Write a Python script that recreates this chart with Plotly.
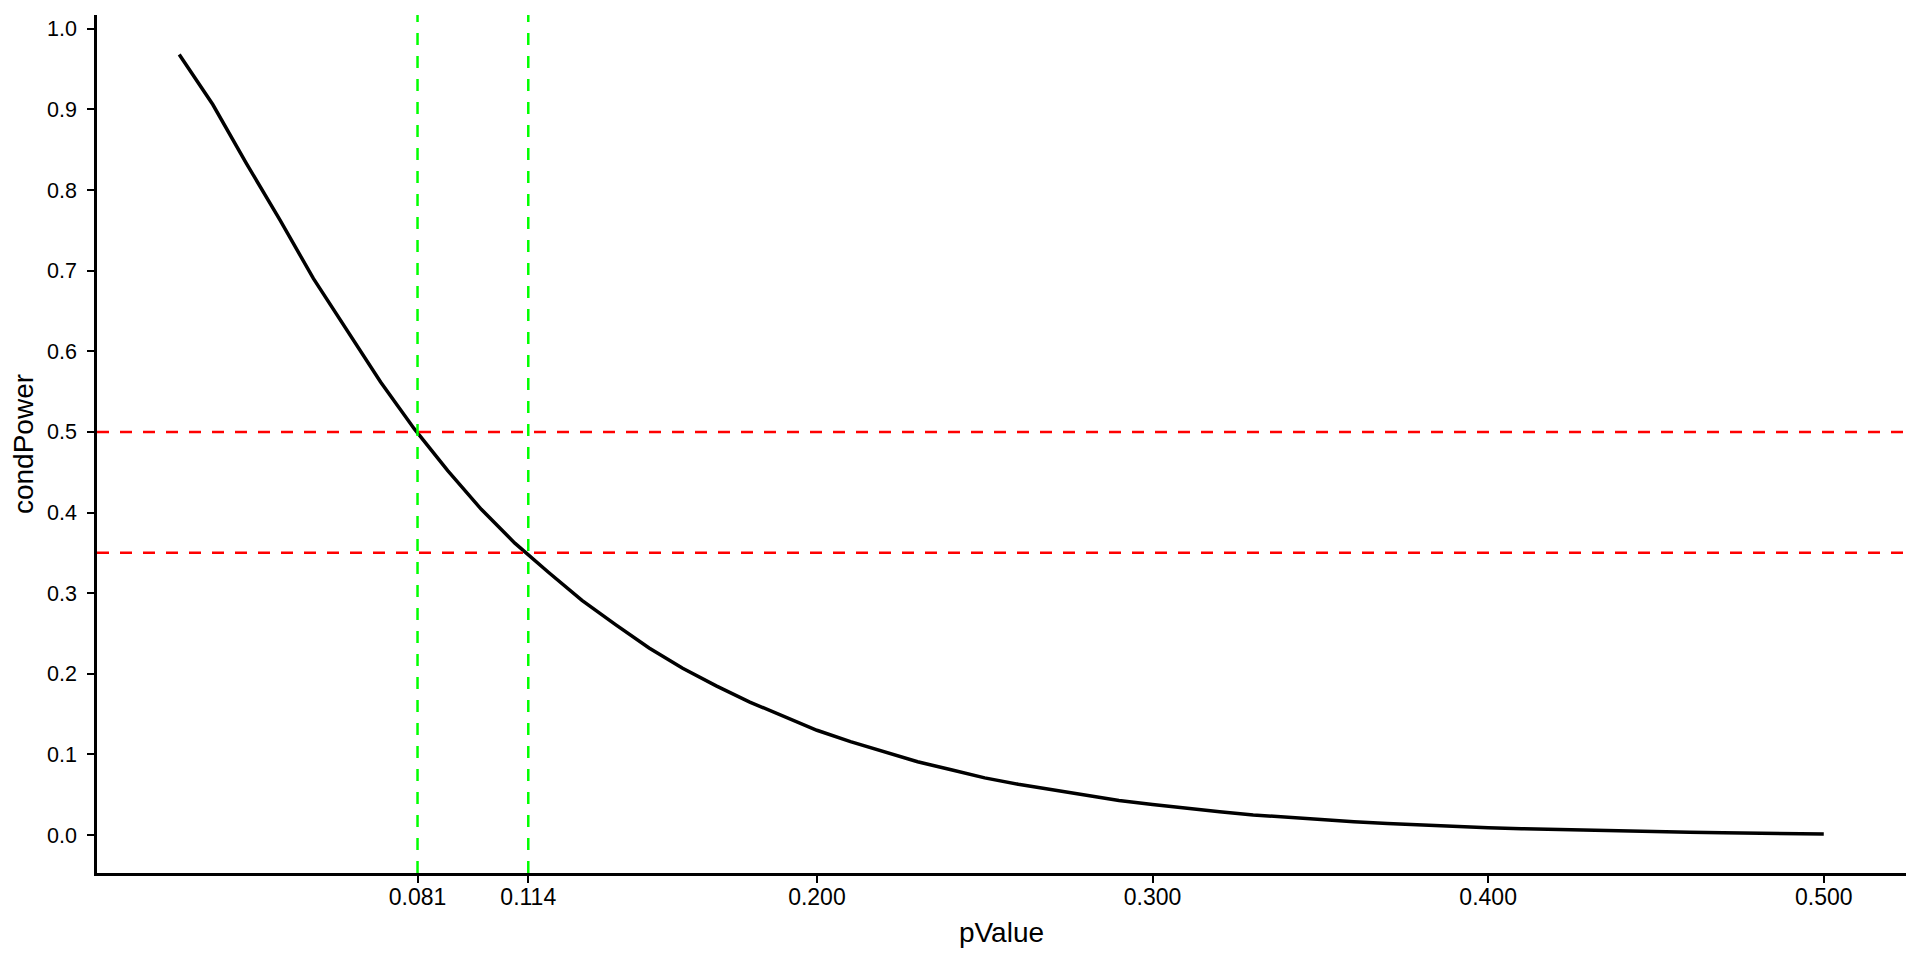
import plotly.graph_objects as go

p_values = [0.01, 0.02, 0.03, 0.04, 0.05, 0.06, 0.07, 0.08, 0.09, 0.10,
            0.11, 0.12, 0.13, 0.14, 0.15, 0.16, 0.17, 0.18, 0.19, 0.20,
            0.21, 0.22, 0.23, 0.24, 0.25, 0.26, 0.27, 0.28, 0.29, 0.30,
            0.31, 0.32, 0.33, 0.34, 0.35, 0.36, 0.37, 0.38, 0.39, 0.40,
            0.41, 0.42, 0.43, 0.44, 0.45, 0.46, 0.47, 0.48, 0.49, 0.50]
cond_power = [0.968, 0.906, 0.833, 0.763, 0.690, 0.626, 0.562, 0.504, 0.452, 0.404,
              0.362, 0.326, 0.291, 0.261, 0.232, 0.207, 0.185, 0.165, 0.147, 0.130,
              0.116, 0.103, 0.091, 0.081, 0.071, 0.063, 0.056, 0.049, 0.043, 0.038,
              0.033, 0.029, 0.025, 0.022, 0.019, 0.0165, 0.0143, 0.0124, 0.0107, 0.0092,
              0.0080, 0.0069, 0.0059, 0.0050, 0.0042, 0.0035, 0.0029, 0.0023, 0.0018, 0.0014]

h_lines = [0.5, 0.35]
v_lines = [0.081, 0.114]

x_ticks = [0.081, 0.114, 0.2, 0.3, 0.4, 0.5]
x_tick_labels = ["0.081", "0.114", "0.200", "0.300", "0.400", "0.500"]
y_ticks = [0.0, 0.1, 0.2, 0.3, 0.4, 0.5, 0.6, 0.7, 0.8, 0.9, 1.0]
y_tick_labels = ["0.0", "0.1", "0.2", "0.3", "0.4", "0.5", "0.6", "0.7", "0.8", "0.9", "1.0"]

fig = go.Figure()
fig.add_trace(go.Scatter(x=p_values, y=cond_power, mode="lines",
                         line=dict(color="black", width=3.5), showlegend=False))

for h in h_lines:
    fig.add_shape(type="line", xref="x domain", yref="y", x0=0, x1=1, y0=h, y1=h,
                  line=dict(color="#FF0000", width=2.5, dash="12px,11px"), layer="above")
for v in v_lines:
    fig.add_shape(type="line", xref="x", yref="y domain", x0=v, x1=v, y0=0, y1=1,
                  line=dict(color="#00FF00", width=2.5, dash="12px,11px"), layer="above")

font_family = "Liberation Sans, Arial, sans-serif"
fig.update_layout(
    width=1912, height=952,
    paper_bgcolor="white", plot_bgcolor="white",
    margin=dict(l=89, r=14, t=7, b=87, autoexpand=False),
    font=dict(family=font_family, color="black", size=21),
    xaxis=dict(range=[-0.0145, 0.5245], tickvals=x_ticks, ticktext=x_tick_labels,
               showline=True, linecolor="black", linewidth=2.5, ticks="outside",
               ticklen=7, tickwidth=2, tickcolor="black", showgrid=False, zeroline=False,
               automargin=False, ticklabelstandoff=-5,
               tickfont=dict(size=23, color="black"),
               title=dict(text="pValue", font=dict(size=28, color="black"), standoff=14)),
    yaxis=dict(range=[-0.047, 1.017], tickvals=y_ticks, ticktext=y_tick_labels,
               showline=True, linecolor="black", linewidth=2.5, ticks="outside",
               ticklen=7, tickwidth=2, tickcolor="black", showgrid=False, zeroline=False,
               automargin=False, ticklabelstandoff=6,
               tickfont=dict(size=21.5, color="black"),
               title=dict(text="condPower", font=dict(size=28, color="black"), standoff=7)),
)

fig.write_html("out.html")
